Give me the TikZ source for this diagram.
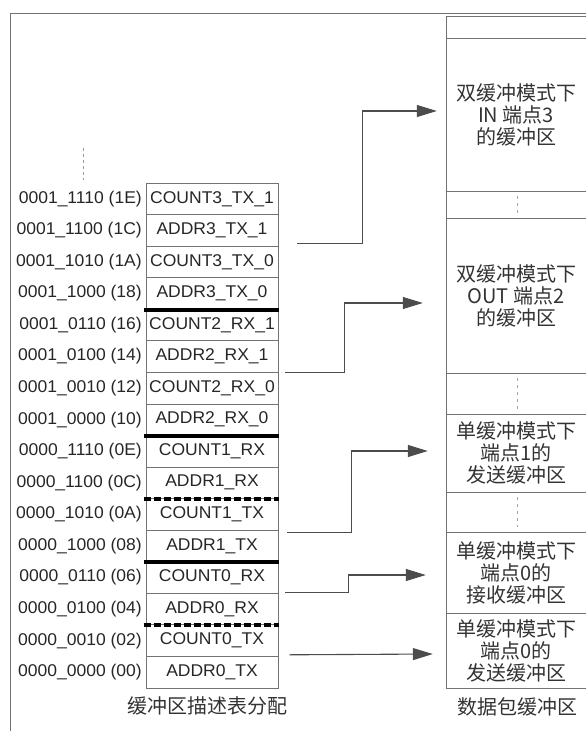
\documentclass[tikz,border=0pt]{standalone}
\usepackage{fontspec}
\setmainfont{Liberation Sans}[FakeStretch=1.03]
\newfontfamily\cjk{Noto Sans CJK SC}
\usetikzlibrary{arrows.meta,positioning,calc}

\begin{document}
\begin{tikzpicture}[x=1pt,y=-1pt,>={Triangle[length=20pt,width=12pt]},
  cell/.style={draw=black!55,line width=0.8pt,minimum width=132pt,minimum height=31.56pt,
    inner sep=0pt,font=\fontsize{17}{18}\selectfont,text=black!85},
  addr/.style={anchor=east,inner sep=0pt,font=\fontsize{17}{18}\selectfont,text=black!85},
  buf/.style={minimum width=140pt,inner sep=0pt,align=center,
    font=\cjk\fontsize{20}{22}\selectfont,text=black!80},
  capnode/.style={inner sep=0pt,font=\cjk\fontsize{20}{22}\selectfont,text=black!80},
  rule/.style={draw=black!55,line width=0.8pt},
  link/.style={->,black!70,line width=1.1pt}]
\clip (0,0) rectangle (586,731);
\draw[rule] (10,740) -- (10,13) -- (600,13);
\begin{scope}
  \draw[black!40,dash pattern=on 3pt off 3pt] (83,148) -- (83,180);
  \foreach \lab/\adr [count=\i from 0] in {
      COUNT3\_TX\_1/0001\_1110 (1E), ADDR3\_TX\_1/0001\_1100 (1C),
      COUNT3\_TX\_0/0001\_1010 (1A), ADDR3\_TX\_0/0001\_1000 (18),
      COUNT2\_RX\_1/0001\_0110 (16), ADDR2\_RX\_1/0001\_0100 (14),
      COUNT2\_RX\_0/0001\_0010 (12), ADDR2\_RX\_0/0001\_0000 (10),
      COUNT1\_RX/0000\_1110 (0E), ADDR1\_RX/0000\_1100 (0C),
      COUNT1\_TX/0000\_1010 (0A), ADDR1\_TX/0000\_1000 (08),
      COUNT0\_RX/0000\_0110 (06), ADDR0\_RX/0000\_0100 (04),
      COUNT0\_TX/0000\_0010 (02), ADDR0\_TX/0000\_0000 (00)} {
    \pgfmathsetmacro{\yc}{183+31.56*(\i+0.5)}
    \node[cell] (r\i) at (212,\yc) {\lab};
    \node[addr] (a\i) at (142,\yc) {\adr};
  }
  \foreach \k in {3,7,11}
    \draw[line width=4pt] ([xshift=-2pt]r\k.south west) -- ([xshift=1pt]r\k.south east);
  \foreach \k in {9,13}
    \draw[line width=4pt,dash pattern=on 7pt off 3pt] ([xshift=-2pt]r\k.south west) -- ([xshift=1pt]r\k.south east);
  \node[capnode] (tabcap) at (207,706) {缓冲区描述表分配};
\end{scope}
\begin{scope}
  \draw[rule] (600,16) -- (446,16) -- (446,688) -- (600,688);
  \draw[rule] (446,38) -- (600,38);
  \foreach \ya/\yb in {191/218,373/414,492/532} {
    \draw[rule] (446,\ya) -- (600,\ya) (446,\yb) -- (600,\yb);
    \draw[black!35,dash pattern=on 3pt off 4pt] (517,\ya+5) -- (517,\yb-5);
  }
  \draw[rule] (446,613) -- (600,613);
  \node[buf] (buf1) at (516,114.5) {双缓冲模式下\\IN 端点3\\的缓冲区};
  \node[buf] (buf2) at (516,295.5) {双缓冲模式下\\OUT 端点2\\的缓冲区};
  \node[buf] (buf3) at (516,453) {单缓冲模式下\\端点1的\\发送缓冲区};
  \node[buf] (buf4) at (516,572.5) {单缓冲模式下\\端点0的\\接收缓冲区};
  \node[buf] (buf5) at (516,650.5) {单缓冲模式下\\端点0的\\发送缓冲区};
  \node[capnode] (bufcap) at (517,707) {数据包缓冲区};
\end{scope}
\draw[link] ([xshift=19pt,yshift=3pt]r1.south east) -- ++(65,0) |- ([xshift=-9pt,yshift=3.5pt]buf1.west);
\draw[link] ([xshift=7pt]r5.south east) -- ++(59,0) |- ([xshift=-23pt,yshift=-7.5pt]buf2.west);
\draw[link] ([xshift=9pt,yshift=-2pt]r10.south east) -- ++(64,0) |- ([xshift=-18pt,yshift=2pt]buf3.west);
\draw[link] ([xshift=7pt,yshift=1pt]r12.south east) -- ++(63,0) |- ([xshift=-20pt,yshift=-2.5pt]buf4.west);
\draw[link] ([xshift=11pt,yshift=2pt]r14.south east) -- ([xshift=-13pt,yshift=-3.5pt]buf5.west);
\end{tikzpicture}
\end{document}
